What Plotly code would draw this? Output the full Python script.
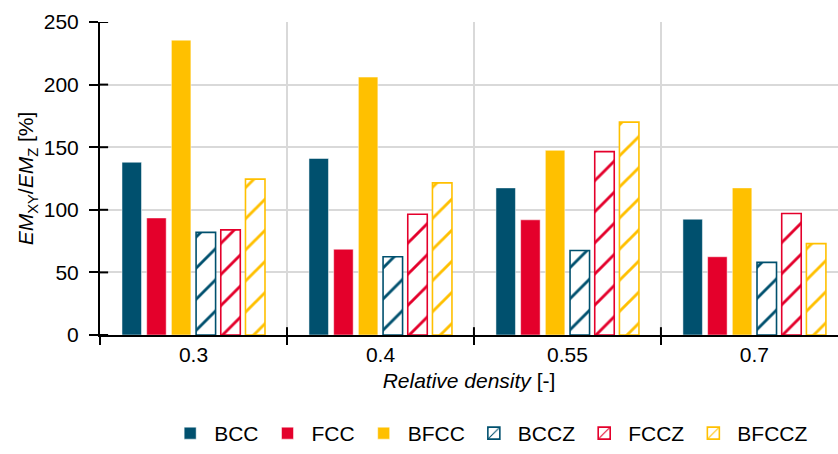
import plotly.graph_objects as go

categories = ["0.3", "0.4", "0.55", "0.7"]
series_names = ["BCC", "FCC", "BFCC", "BCCZ", "FCCZ", "BFCCZ"]
bcc = [138, 141, 117.5, 92.5]
fcc = [93.5, 68.5, 92, 62.5]
bfcc = [235.5, 206, 147.5, 117.5]
bccz = [82, 62.5, 67.5, 58]
fccz = [84, 96.5, 146.5, 97]
bfccz = [124.5, 121.5, 170, 73]
y_ticks = [0, 50, 100, 150, 200, 250]

values = [bcc, fcc, bfcc, bccz, fccz, bfccz]
colors = ["#00506E", "#E4002B", "#FFC000", "#00506E", "#E4002B", "#FFC000"]
hatched = [False, False, False, True, True, True]

FONT = "Arial, Liberation Sans, sans-serif"

fig = go.Figure()
for name, vals, col, h in zip(series_names, values, colors, hatched):
    if h:
        marker = dict(color="white",
                      line=dict(color=col, width=1.6),
                      pattern=dict(shape="/", fgcolor=col, bgcolor="white",
                                   fgopacity=1, size=22, solidity=0.13))
    else:
        marker = dict(color=col, line=dict(color="white", width=0.5))
    fig.add_trace(go.Bar(name=name, x=categories, y=vals, marker=marker))

# inner halves of the axis tick marks (ticks cross the axis lines)
tick_style = dict(type="line", line=dict(color="#000", width=2), layer="above")
for v in y_ticks:
    fig.add_shape(xref="x domain", yref="y", x0=0, x1=0.011, y0=v, y1=v, **tick_style)
for i in range(1, len(categories)):
    fig.add_shape(xref="x", yref="y domain", x0=i - 0.5, x1=i - 0.5, y0=0, y1=0.025,
                  **tick_style)

xrange = [-0.5, 3.447]
fig.update_layout(
    width=838, height=454,
    margin=dict(l=100, r=0, t=22, b=111),
    paper_bgcolor="white", plot_bgcolor="white",
    font=dict(family=FONT, size=21, color="#000000"),
    barmode="group", bargap=0.2075, bargroupgap=0.21,
    showlegend=True,
    legend=dict(orientation="h", x=0.528, xanchor="center", y=-0.25, yanchor="top",
                font=dict(size=21), itemwidth=38, traceorder="normal",
                bgcolor="rgba(0,0,0,0)"),
    xaxis=dict(type="category", categoryorder="array", categoryarray=categories,
               range=xrange, tickson="boundaries", ticks="outside", ticklen=8,
               tickwidth=2, tickcolor="#000", showline=True, linecolor="#000",
               linewidth=2, showgrid=True, gridcolor="#d9d9d9", gridwidth=1.5,
               tickfont=dict(size=21), zeroline=False,
               title=dict(text="<i>Relative density</i> [-]", font=dict(size=21),
                          standoff=8)),
    yaxis=dict(range=[0, 250], tickvals=y_ticks, ticks="outside", ticklen=9,
               tickwidth=2, tickcolor="#000", showline=True, linecolor="#000",
               linewidth=2, showgrid=True, gridcolor="#d9d9d9", gridwidth=1.5,
               zeroline=False, tickfont=dict(size=21), ticklabelstandoff=6,
               title=dict(text="<i>EM</i><sub>XY</sub>/<i>EM</i><sub>Z</sub> [%]",
                          font=dict(size=21), standoff=4)),
)

fig.write_html("out.html")
